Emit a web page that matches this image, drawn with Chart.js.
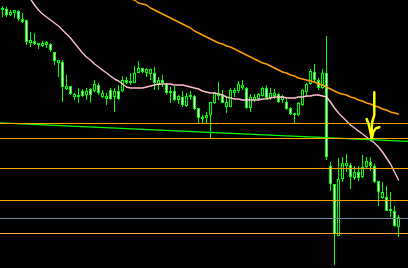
<!DOCTYPE html>
<html>
<head>
<meta charset="utf-8">
<script src="https://cdn.jsdelivr.net/npm/chart.js@4.4.1/dist/chart.umd.min.js"></script>
<style>
html,body{margin:0;padding:0;background:#000;overflow:hidden;}
#wrap{width:408px;height:268px;}
canvas{display:block;background:#000;}
</style>
</head>
<body>
<div id="wrap"><canvas id="c" width="408" height="268"></canvas></div>
<script>
// ---- data (prices) ----
const open = [1.3490,1.3491,1.3485,1.3487,1.3489,1.3481,1.3480,1.3457,1.3459,1.3457,
1.3454,1.3455,1.3456,1.3448,1.3437,1.3438,1.3411,1.3414,1.3403,1.3403,
1.3409,1.3405,1.3411,1.3409,1.3415,1.3403,1.3401,1.3410,1.3403,1.3409,
1.3409,1.3420,1.3417,1.3417,1.3427,1.3432,1.3427,1.3426,1.3427,1.3415,
1.3420,1.3416,1.3407,1.3409,1.3400,1.3403,1.3394,1.3403,1.3404,1.3392,
1.3381,1.3382,1.3385,1.3397,1.3404,1.3405,1.3393,1.3393,1.3407,1.3409,
1.3412,1.3412,1.3392,1.3400,1.3401,1.3404,1.3412,1.3402,1.3404,1.3406,
1.3400,1.3398,1.3392,1.3385,1.3385,1.3395,1.3408,1.3416,1.3428,1.3420,
1.3412,1.3427,1.3334,1.3316,1.3264,1.3321,1.3334,1.3335,1.3322,1.3328,
1.3323,1.3333,1.3338,1.3334,1.3319,1.3302,1.3303,1.3289,1.3289,1.3273];
const high = [1.3494,1.3493,1.3490,1.3490,1.3490,1.3487,1.3480,1.3468,1.3467,1.3457,
1.3459,1.3459,1.3457,1.3448,1.3440,1.3440,1.3425,1.3414,1.3407,1.3412,
1.3411,1.3412,1.3412,1.3420,1.3417,1.3410,1.3407,1.3412,1.3412,1.3415,
1.3424,1.3423,1.3427,1.3434,1.3439,1.3432,1.3432,1.3431,1.3433,1.3423,
1.3425,1.3417,1.3413,1.3414,1.3405,1.3409,1.3407,1.3409,1.3405,1.3392,
1.3385,1.3388,1.3398,1.3408,1.3418,1.3410,1.3403,1.3412,1.3412,1.3419,
1.3420,1.3413,1.3406,1.3406,1.3407,1.3413,1.3415,1.3412,1.3411,1.3407,
1.3405,1.3401,1.3393,1.3387,1.3398,1.3411,1.3417,1.3431,1.3436,1.3422,
1.3431,1.3464,1.3338,1.3316,1.3342,1.3343,1.3346,1.3337,1.3334,1.3334,
1.3345,1.3343,1.3343,1.3336,1.3319,1.3318,1.3314,1.3308,1.3294,1.3285];
const low = [1.3483,1.3483,1.3484,1.3482,1.3479,1.3477,1.3455,1.3453,1.3455,1.3451,
1.3453,1.3452,1.3448,1.3435,1.3423,1.3398,1.3410,1.3405,1.3400,1.3397,
1.3403,1.3400,1.3397,1.3408,1.3405,1.3402,1.3395,1.3400,1.3388,1.3400,
1.3408,1.3416,1.3415,1.3417,1.3427,1.3427,1.3423,1.3420,1.3410,1.3410,
1.3413,1.3405,1.3397,1.3399,1.3396,1.3393,1.3393,1.3400,1.3390,1.3376,
1.3376,1.3377,1.3362,1.3396,1.3400,1.3397,1.3387,1.3393,1.3403,1.3407,
1.3410,1.3391,1.3388,1.3398,1.3400,1.3403,1.3401,1.3400,1.3401,1.3397,
1.3397,1.3390,1.3385,1.3377,1.3384,1.3394,1.3403,1.3415,1.3418,1.3410,
1.3411,1.3340,1.3309,1.3235,1.3264,1.3318,1.3328,1.3311,1.3320,1.3319,
1.3322,1.3332,1.3329,1.3317,1.3294,1.3301,1.3289,1.3283,1.3273,1.3263];
const close = [1.3492,1.3485,1.3488,1.3490,1.3481,1.3478,1.3458,1.3460,1.3456,1.3455,
1.3457,1.3458,1.3450,1.3439,1.3440,1.3413,1.3414,1.3406,1.3406,1.3405,
1.3404,1.3409,1.3405,1.3416,1.3407,1.3407,1.3404,1.3401,1.3409,1.3401,
1.3420,1.3417,1.3419,1.3427,1.3432,1.3428,1.3431,1.3431,1.3417,1.3420,
1.3417,1.3407,1.3409,1.3400,1.3404,1.3395,1.3404,1.3405,1.3391,1.3382,
1.3383,1.3385,1.3398,1.3407,1.3407,1.3397,1.3398,1.3410,1.3410,1.3416,
1.3415,1.3392,1.3403,1.3403,1.3406,1.3412,1.3402,1.3407,1.3407,1.3398,
1.3404,1.3391,1.3386,1.3387,1.3397,1.3410,1.3416,1.3429,1.3420,1.3412,
1.3427,1.3343,1.3316,1.3266,1.3321,1.3337,1.3337,1.3323,1.3328,1.3322,
1.3333,1.3339,1.3334,1.3318,1.3308,1.3308,1.3289,1.3291,1.3274,1.3283];

// fast moving average (pink)
const maFast = [null,null,null,null,null,null,1.3506,1.3501,1.3495,1.3490,
1.3486,1.3483,1.3480,1.3477,1.3474,1.3470,1.3466,1.3462,1.3457,1.3452,
1.3447,1.3443,1.3440,1.3436,1.3433,1.3430,1.3427,1.3424,1.3421,1.3419,
1.3416,1.3413,1.3412,1.3412,1.3412,1.3412,1.3413,1.3414,1.3415,1.3416,
1.3416,1.3416,1.3416,1.3415,1.3415,1.3415,1.3414,1.3413,1.3412,1.3411,
1.3409,1.3408,1.3407,1.3407,1.3406,1.3405,1.3403,1.3402,1.3401,1.3401,
1.3400,1.3400,1.3400,1.3400,1.3400,1.3401,1.3401,1.3402,1.3403,1.3403,
1.3403,1.3402,1.3402,1.3402,1.3403,1.3403,1.3404,1.3404,1.3405,1.3405,
1.3404,1.3403,1.3398,1.3392,1.3387,1.3383,1.3379,1.3375,1.3372,1.3369,
1.3366,1.3363,1.3360,1.3357,1.3353,1.3348,1.3342,1.3336,1.3328,1.3320];
// slow moving average (orange)
const maSlow = [null,null,null,null,null,null,null,null,null,null,
null,null,null,null,null,null,null,null,null,null,
null,null,null,null,null,null,null,null,null,null,
null,null,1.3501,1.3500,1.3497,1.3496,1.3495,1.3492,1.3490,1.3488,
1.3486,1.3484,1.3482,1.3480,1.3478,1.3476,1.3474,1.3472,1.3469,1.3467,
1.3465,1.3463,1.3461,1.3459,1.3457,1.3456,1.3454,1.3453,1.3451,1.3449,
1.3447,1.3445,1.3443,1.3441,1.3439,1.3437,1.3436,1.3434,1.3432,1.3430,
1.3428,1.3427,1.3425,1.3424,1.3422,1.3421,1.3420,1.3419,1.3418,1.3416,
1.3415,1.3413,1.3411,1.3409,1.3407,1.3406,1.3405,1.3403,1.3402,1.3400,
1.3399,1.3397,1.3396,1.3394,1.3393,1.3391,1.3390,1.3388,1.3387,1.3386];

// horizontal levels
const levels = [1.33765, 1.33615, 1.33315, 1.32995, 1.32815, 1.32665];
// trend line end points [barIndex, price]
const trendLine = [[-0.625, 1.33772], [101.375, 1.33586]];
// hand-drawn arrow strokes [barIndex, price]
const arrowShaft = [[92.95,1.34077],[92.95,1.3385],[92.7,1.33817],[92.45,1.33783],[92.3,1.3372],[92.3,1.3362]];
const arrowLeft = [[91.05,1.3381],[91.45,1.33767],[91.7,1.33733],[92.125,1.3365],[92.3,1.3362]];
const arrowRight = [[94.2,1.33727],[93.375,1.33717],[92.7,1.33683],[92.45,1.33633]];

// ---- styles ----
const levelColors = ['#FFA500','#FFA500','#FFA500','#FFA500','#778899','#F2A540'];
const X_MIN = -0.625, X_MAX = 101.375, Y_MIN = 1.3232, Y_MAX = 1.3500;

const pts = arr => arr.map(p => ({x: p[0], y: p[1]}));
const series = arr => arr.map((v, i) => ({x: i, y: v}));

const lineDs = (data, color, width, order) => ({
  type: 'line', data, borderColor: color, borderWidth: width, pointRadius: 0,
  tension: 0, fill: false, order, spanGaps: false,
  borderCapStyle: 'round', borderJoinStyle: 'round'
});

const datasets = [];
// wicks
datasets.push({
  type: 'bar', data: open.map((_, i) => ({x: i, y: [low[i], high[i]]})),
  backgroundColor: '#00FF00', borderWidth: 0, barThickness: 1, grouped: false,
  inflateAmount: 0, order: 5
});
// bodies
datasets.push({
  type: 'bar', data: open.map((o, i) => ({x: i, y: [o, close[i]]})),
  backgroundColor: open.map((o, i) => o > close[i] ? '#FFFFFF' : '#000000'),
  borderColor: '#00FF00', borderWidth: 1, borderSkipped: false, barThickness: 3,
  grouped: false, inflateAmount: 0, order: 4
});
datasets.push(lineDs(series(maFast), '#FFBFCB', 1.4, 3));
datasets.push(lineDs(series(maSlow), '#FFA000', 1.4, 3));
levels.forEach((v, k) => datasets.push(lineDs([{x: X_MIN, y: v}, {x: X_MAX, y: v}], levelColors[k], 1, 2)));
datasets.push(lineDs(pts(trendLine), '#00FF00', 1.3, 2));
[arrowShaft, arrowLeft, arrowRight].forEach(a => datasets.push(lineDs(pts(a), '#FFFF00', 2.5, 1)));

new Chart(document.getElementById('c'), {
  type: 'bar',
  data: { datasets },
  options: {
    responsive: false, animation: false, devicePixelRatio: 1,
    layout: { padding: 0 },
    plugins: { legend: { display: false }, tooltip: { enabled: false } },
    events: [],
    scales: {
      x: { type: 'linear', min: X_MIN, max: X_MAX, offset: false, display: false },
      y: { type: 'linear', min: Y_MIN, max: Y_MAX, display: false, beginAtZero: false }
    }
  }
});
</script>
</body>
</html>
